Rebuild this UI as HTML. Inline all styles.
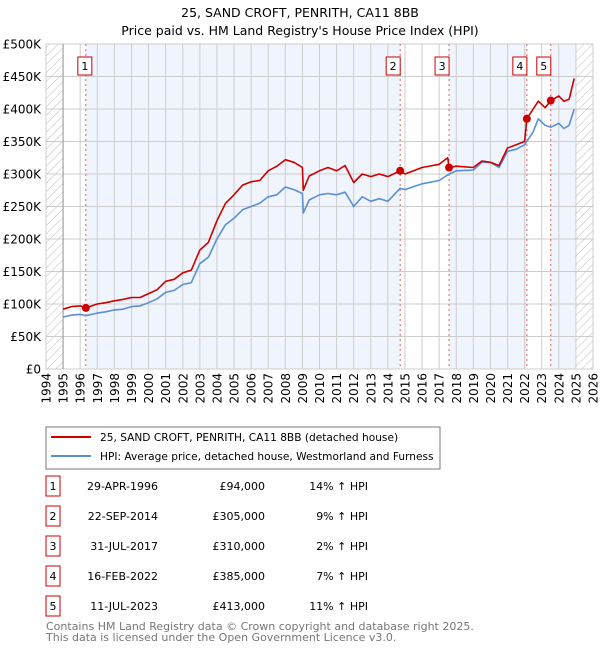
<!DOCTYPE html>
<html><head><meta charset="utf-8"><style>
body{margin:0;background:#fff;font-family:"Liberation Sans","DejaVu Sans",sans-serif;}
svg text{font-family:"DejaVu Sans","Liberation Sans",sans-serif;}
</style></head><body>
<svg id="c" width="600" height="650" xmlns="http://www.w3.org/2000/svg">
<defs><pattern id="hatch" width="6" height="6" patternUnits="userSpaceOnUse" patternTransform="rotate(45)"><line x1="0" y1="0" x2="0" y2="6" stroke="#bbb" stroke-width="1"/></pattern></defs>
<text x="300" y="17" text-anchor="middle" font-size="12.5" fill="#000">25, SAND CROFT, PENRITH, CA11 8BB</text>
<text x="300" y="35" text-anchor="middle" font-size="12.5" fill="#000">Price paid vs. HM Land Registry's House Price Index (HPI)</text>
<g id="plot"></g>
<g id="legend">
<rect x="46" y="427" width="394" height="42" fill="#fff" stroke="#777"/>
<line x1="51" y1="437" x2="91" y2="437" stroke="#cc0000" stroke-width="2"/>
<text x="100" y="441" font-size="10.6">25, SAND CROFT, PENRITH, CA11 8BB (detached house)</text>
<line x1="51" y1="456" x2="91" y2="456" stroke="#5b8fd4" stroke-width="2"/>
<text x="100" y="460" font-size="10.6">HPI: Average price, detached house, Westmorland and Furness</text>
</g>
<g id="table"></g>
<text x="46" y="630" font-size="11" fill="#777">Contains HM Land Registry data © Crown copyright and database right 2025.</text>
<text x="46" y="641" font-size="11" fill="#777">This data is licensed under the Open Government Licence v3.0.</text>
</svg>
<script>
const NS="http://www.w3.org/2000/svg";
const redX=[1995.0,1995.5,1996.0,1996.33,1997.0,1997.5,1998.0,1998.5,1999.0,1999.5,2000.0,2000.5,2001.0,2001.5,2002.0,2002.5,2003.0,2003.5,2004.0,2004.5,2005.0,2005.5,2006.0,2006.5,2007.0,2007.5,2008.0,2008.5,2009.0,2009.05,2009.4,2010.0,2010.5,2011.0,2011.5,2012.0,2012.5,2013.0,2013.5,2014.0,2014.72,2015.0,2016.0,2017.0,2017.5,2017.58,2018.0,2019.0,2019.5,2020.0,2020.5,2021.0,2021.5,2022.0,2022.13,2022.5,2022.8,2023.2,2023.53,2024.0,2024.3,2024.6,2024.9];
const redY=[92,96,97,94,100,102,105,107,110,110,116,122,135,138,148,152,183,195,228,255,268,283,288,290,305,312,322,318,310,275,297,305,310,305,313,287,300,296,300,296,305,300,310,315,325,310,312,310,320,318,313,340,345,350,385,400,412,402,413,420,412,415,447];
const blueX=[1995.0,1995.5,1996.0,1996.33,1997.0,1997.5,1998.0,1998.5,1999.0,1999.5,2000.0,2000.5,2001.0,2001.5,2002.0,2002.5,2003.0,2003.5,2004.0,2004.5,2005.0,2005.5,2006.0,2006.5,2007.0,2007.5,2008.0,2008.5,2009.0,2009.05,2009.4,2010.0,2010.5,2011.0,2011.5,2012.0,2012.5,2013.0,2013.5,2014.0,2014.72,2015.0,2016.0,2017.0,2017.58,2018.0,2019.0,2019.5,2020.0,2020.5,2021.0,2021.5,2022.0,2022.5,2022.8,2023.2,2023.53,2024.0,2024.3,2024.6,2024.9];
const blueY=[80,83,84,82,86,88,91,92,96,97,102,108,118,121,130,133,162,172,200,222,232,245,250,255,265,268,280,276,270,240,260,268,270,268,272,250,265,258,262,258,278,276,285,290,300,305,306,318,318,310,335,338,345,365,385,375,372,378,370,375,400];
const saleX=[1996.33,2014.72,2017.58,2022.13,2023.53];
const saleY=[94,305,310,385,413];
const saleLabels=["1","2","3","4","5"];
const saleDates=["29-APR-1996","22-SEP-2014","31-JUL-2017","16-FEB-2022","11-JUL-2023"];
const salePrices=["£94,000","£305,000","£310,000","£385,000","£413,000"];
const saleHpi=["14% ↑ HPI","9% ↑ HPI","2% ↑ HPI","7% ↑ HPI","11% ↑ HPI"];
const yTicks=[0,50,100,150,200,250,300,350,400,450,500];
const yTickLabels=["£0","£50K","£100K","£150K","£200K","£250K","£300K","£350K","£400K","£450K","£500K"];
const xYears=[1994,1995,1996,1997,1998,1999,2000,2001,2002,2003,2004,2005,2006,2007,2008,2009,2010,2011,2012,2013,2014,2015,2016,2017,2018,2019,2020,2021,2022,2023,2024,2025,2026];

const L=46,R=593,T=44,B=369;
const sx=y=>L+(y-1994)/(2026-1994)*(R-L);
const sy=v=>B-v/500*(B-T);
const plot=document.getElementById('plot');
function mk(tag,attrs,parent){const e=document.createElementNS(NS,tag);for(const k in attrs)e.setAttribute(k,attrs[k]);(parent||plot).appendChild(e);return e;}

let e=mk('rect',{x:L,y:T,width:R-L,height:B-T,fill:'#fff'});


const dataEnd=2024.95;
const bands=[[saleX[0],saleX[1]],[saleX[2],saleX[3]],[saleX[4],dataEnd]];
bands.forEach(b=>{const r=mk('rect',{x:sx(b[0]),y:T,width:sx(b[1])-sx(b[0]),height:B-T,fill:'#f0f5fd'});

});
e=mk('rect',{x:sx(1994),y:T,width:sx(1995)-sx(1994),height:B-T,fill:'url(#hatch)'});


e=mk('rect',{x:sx(dataEnd),y:T,width:sx(2026)-sx(dataEnd),height:B-T,fill:'url(#hatch)'});


xYears.forEach(y=>{const l=mk('line',{x1:sx(y),x2:sx(y),y1:T,y2:B,stroke:'#ccc','stroke-width':1});


const t=mk('text',{x:0,y:0,'font-size':12,'text-anchor':'end',transform:`translate(${sx(y)+4.5},${B+4}) rotate(-90)`});
t.textContent=y;

});
yTicks.forEach((v,i)=>{const l=mk('line',{x1:L,x2:R,y1:sy(v),y2:sy(v),stroke:'#ccc','stroke-width':1});


const t=mk('text',{x:L-5,y:sy(v)+4.5,'font-size':12,'text-anchor':'end'});
t.textContent=yTickLabels[i];

});
e=mk('line',{x1:sx(1995),x2:sx(1995),y1:T,y2:B,stroke:'#999'});


saleX.forEach((x,i)=>{const l=mk('line',{x1:sx(x),x2:sx(x),y1:T,y2:B,stroke:'#e06060','stroke-dasharray':'2,3','stroke-width':1});

});
function path(xs,ys,col,name){const d=xs.map((x,i)=>(i?'L':'M')+sx(x).toFixed(1)+','+sy(ys[i]).toFixed(1)).join('');
const p=mk('path',{d:d,fill:'none',stroke:col,'stroke-width':1.6,'stroke-linejoin':'round'});

}
path(blueX,blueY,'#5b8fd4','hpi-line');
path(redX,redY,'#cc0000','property-price-line');
saleX.forEach((x,i)=>{const c=mk('circle',{cx:sx(x),cy:sy(saleY[i]),r:4,fill:'#cc0000'});


const g=mk('g',{});


mk('rect',{x:sx(x)-8-(i==0?0:6),y:57,width:14,height:18,fill:'#fff',stroke:'#cc0000'},g);
const t=mk('text',{x:sx(x)-1-(i==0?0:6),y:70,'font-size':11,'text-anchor':'middle'},g);t.textContent=saleLabels[i];});
const tb=document.getElementById('table');
saleLabels.forEach((s,i)=>{const cy=486+i*30;
const r=mk('g',{},tb);


mk('rect',{x:46,y:cy-10,width:14,height:20,fill:'#fff',stroke:'#cc0000'},r);
let t=mk('text',{x:53,y:cy+4,'font-size':11,'text-anchor':'middle'},r);t.textContent=s;
t=mk('text',{x:158,y:cy+4,'font-size':11,'text-anchor':'end'},r);t.textContent=saleDates[i];
t=mk('text',{x:265,y:cy+4,'font-size':11,'text-anchor':'end'},r);t.textContent=salePrices[i];
t=mk('text',{x:368,y:cy+4,'font-size':11,'text-anchor':'end'},r);t.textContent=saleHpi[i];});
</script>
</body></html>
